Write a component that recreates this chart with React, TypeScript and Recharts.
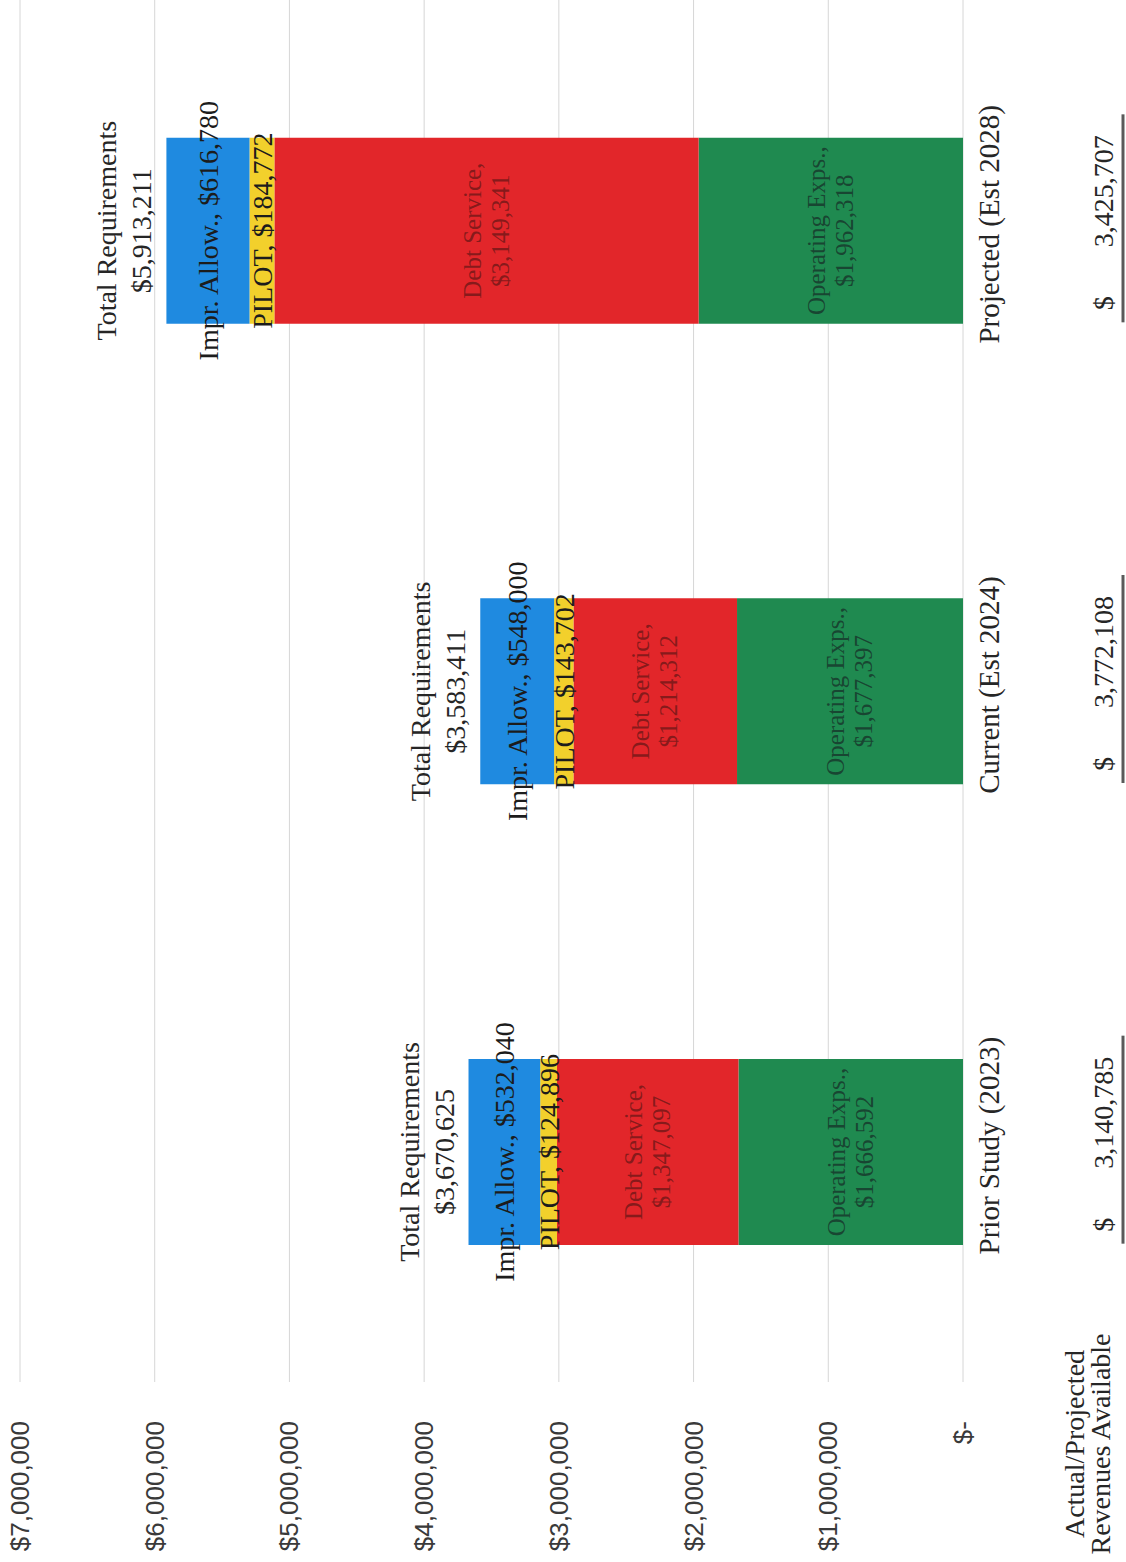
import { BarChart, Bar, XAxis, YAxis, CartesianGrid, LabelList } from 'recharts'

const categories = ['Prior Study (2023)', 'Current (Est 2024)', 'Projected (Est 2028)']
const operatingExps = [1666592, 1677397, 1962318]
const debtService = [1347097, 1214312, 3149341]
const pilot = [124896, 143702, 184772]
const imprAllow = [532040, 548000, 616780]
const revenuesAvailable = [3140785, 3772108, 3425707]
const valueTicks = [0, 1000000, 2000000, 3000000, 4000000, 5000000, 6000000, 7000000]

const COLORS = {
  operating: '#1f8a50',
  debt: '#e2262a',
  pilot: '#f2d02c',
  impr: '#1f8ae0',
}

const SERIF = '"Liberation Serif", "Times New Roman", serif'
const SANS = '"Liberation Sans", Arial, sans-serif'

// chart is laid out upright, then the whole sheet is turned a quarter turn
const CHART_W = 1562
const CHART_H = 1126

const fmt = (n: number) => n.toLocaleString('en-US')
const money = (n: number) => (n === 0 ? '$-' : `$${fmt(n)}`)

const data = categories.map((name, i) => ({
  name,
  operating: operatingExps[i],
  debt: debtService[i],
  pilot: pilot[i],
  impr: imprAllow[i],
  total: operatingExps[i] + debtService[i] + pilot[i] + imprAllow[i],
}))

const twoLineLabel = (title: string, color: string) => (props: any) => {
  const x = Number(props.x)
  const y = Number(props.y)
  const w = Number(props.width)
  const h = Number(props.height)
  const cx = x + w / 2
  const cy = y + h / 2
  return (
    <text textAnchor="middle" fontFamily={SERIF} fontSize={25} fill={color} fillOpacity={0.8}>
      <tspan x={cx} y={cy - 6}>{title},</tspan>
      <tspan x={cx} y={cy + 22}>{money(Number(props.value))}</tspan>
    </text>
  )
}

const oneLineLabel = (title: string) => (props: any) => {
  const x = Number(props.x)
  const y = Number(props.y)
  const w = Number(props.width)
  const h = Number(props.height)
  return (
    <text x={x + w / 2} y={y + h / 2 + 10} textAnchor="middle" fontFamily={SERIF} fontSize={28} fill="#1c1c1c">
      {title} {money(Number(props.value))}
    </text>
  )
}

const totalLabel = (props: any) => {
  const x = Number(props.x)
  const y = Number(props.y)
  const w = Number(props.width)
  const cx = x + w / 2
  return (
    <text textAnchor="middle" fontFamily={SERIF} fontSize={28} fill="#262626">
      <tspan x={cx} y={y - 50}>Total Requirements</tspan>
      <tspan x={cx} y={y - 15}>{money(Number(props.value))}</tspan>
    </text>
  )
}

const ValueTick = (props: any) => {
  const { x, y, payload } = props
  return (
    <text x={x} y={y + 9} textAnchor="end" fontFamily={SANS} fontSize={26} fill="#3a3a3a">
      {money(payload.value)}
    </text>
  )
}

const CategoryTick = (props: any) => {
  const { x, y, payload } = props
  const i = categories.indexOf(payload.value)
  const rev = revenuesAvailable[i]
  return (
    <g>
      <text x={x + 6} y={y + 36} textAnchor="middle" fontFamily={SERIF} fontSize={29} fill="#262626">
        {payload.value}
      </text>
      <text x={x - 80} y={y + 150} textAnchor="start" fontFamily={SERIF} fontSize={28} fill="#262626">
        $
      </text>
      <text x={x + 95} y={y + 150} textAnchor="end" fontFamily={SERIF} fontSize={28} fill="#262626">
        {fmt(rev)}
      </text>
      <line x1={x - 92} x2={x + 116} y1={y + 160} y2={y + 160} stroke="#5a5a5a" strokeWidth={3} />
    </g>
  )
}

export default function App() {
  return (
    <div
      style={{
        position: 'absolute',
        left: 0,
        top: 0,
        width: CHART_H,
        height: CHART_W,
        overflow: 'hidden',
        background: '#fff',
      }}
    >
      <div
        style={{
          position: 'absolute',
          left: 0,
          top: 0,
          width: CHART_W,
          height: CHART_H,
          transformOrigin: '0 0',
          transform: `translateY(${CHART_W}px) rotate(-90deg)`,
        }}
      >
        <BarChart
          width={CHART_W}
          height={CHART_H}
          data={data}
          margin={{ top: 20, right: 0, bottom: 0, left: 0 }}
        >
          <CartesianGrid vertical={false} stroke="#d6d6d6" />
          <XAxis
            dataKey="name"
            height={163}
            axisLine={false}
            tickLine={false}
            tickSize={0}
            tickMargin={0}
            tick={<CategoryTick />}
            interval={0}
          />
          <YAxis
            width={180}
            domain={[0, 7000000]}
            ticks={valueTicks}
            axisLine={false}
            tickLine={false}
            tickSize={0}
            tickMargin={39}
            tick={<ValueTick />}
          />
          <Bar dataKey="operating" stackId="req" fill={COLORS.operating} barSize={186} isAnimationActive={false}>
            <LabelList dataKey="operating" content={twoLineLabel('Operating Exps.', '#17332a')} />
          </Bar>
          <Bar dataKey="debt" stackId="req" fill={COLORS.debt} barSize={186} isAnimationActive={false}>
            <LabelList dataKey="debt" content={twoLineLabel('Debt Service', '#6e1717')} />
          </Bar>
          <Bar dataKey="pilot" stackId="req" fill={COLORS.pilot} barSize={186} isAnimationActive={false}>
            <LabelList dataKey="pilot" content={oneLineLabel('PILOT,')} />
          </Bar>
          <Bar dataKey="impr" stackId="req" fill={COLORS.impr} barSize={186} isAnimationActive={false}>
            <LabelList dataKey="impr" content={oneLineLabel('Impr. Allow.,')} />
            <LabelList dataKey="total" content={totalLabel} />
          </Bar>
        </BarChart>
        <svg
          width={CHART_W}
          height={CHART_H}
          style={{ position: 'absolute', left: 0, top: 0, pointerEvents: 'none' }}
        >
          <text textAnchor="middle" fontFamily={SERIF} fontSize={28} fill="#262626">
            <tspan x={118} y={1084}>Actual/Projected</tspan>
            <tspan x={118} y={1110}>Revenues Available</tspan>
          </text>
        </svg>
      </div>
    </div>
  )
}
